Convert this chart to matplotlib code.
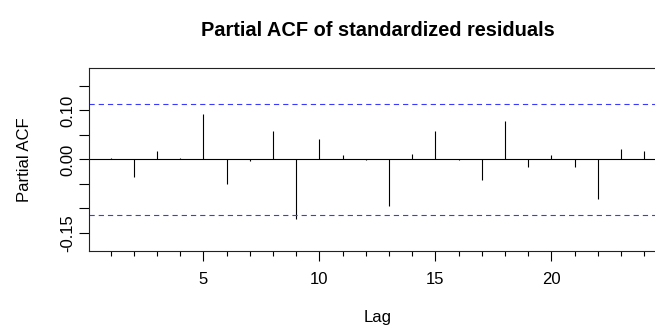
import matplotlib.pyplot as plt
import numpy as np

plt.rcParams['font.family'] = ['Liberation Sans', 'DejaVu Sans']

lags = list(range(1, 25))
pacf_values = [0.002, -0.036, 0.018, 0.003, 0.093, -0.051, -0.003, 0.058,
               -0.121, 0.041, 0.010, -0.001, -0.096, 0.012, 0.058, -0.002,
               -0.043, 0.078, -0.015, 0.009, -0.015, -0.080, 0.021, 0.018]
conf_limit = 0.1135

y_ticks = [-0.15, -0.10, -0.05, 0.00, 0.05, 0.10, 0.15]
y_labels = ['-0.15', '', '', '0.00', '', '0.10', '']
x_major = [5, 10, 15, 20]

W, H = 655, 331
fig = plt.figure(figsize=(W / 100, H / 100), dpi=100)
# plot region runs past the right edge like in the cropped original
ax = fig.add_axes([89.3 / W, 80 / H, 576.3 / W, 182.7 / H])

ax.vlines(lags, 0, pacf_values, color='black', linewidth=0.8)
ax.axhline(0, color='black', linewidth=0.8)
for v in (conf_limit, -conf_limit):
    ax.axhline(v, color='#3a3aff', linewidth=0.8, dashes=(4.7, 3.6))

ax.set_xlim(0.08, 24.92)
ax.set_ylim(-0.187, 0.186)

ax.set_xticks(x_major)
ax.set_xticks(lags, minor=True)
ax.set_yticks(y_ticks)
ax.set_yticklabels(y_labels, rotation=90, va='center')
ax.tick_params(axis='both', which='major', length=7.2, width=0.8,
               labelsize=12, color='black')
ax.tick_params(axis='x', which='minor', length=3.5, width=0.8)
ax.tick_params(axis='x', which='major', pad=7.8)
ax.tick_params(axis='y', which='major', pad=2.8)
for s in ax.spines.values():
    s.set_linewidth(0.8)
    s.set_color('#222222')

ax.set_xlabel('Lag', fontsize=12, labelpad=16.8)
ax.set_ylabel('Partial ACF', fontsize=12, labelpad=20.4)
ax.set_title('Partial ACF of standardized residuals', fontsize=14.4,
             fontweight='bold', pad=23)

fig.savefig('out.png', dpi=100)
